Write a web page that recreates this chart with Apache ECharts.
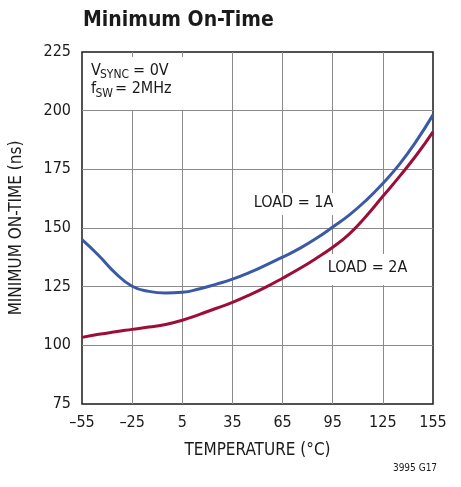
<!DOCTYPE html>
<html>
<head>
<meta charset="utf-8">
<script src="https://cdn.jsdelivr.net/npm/echarts@6/dist/echarts.min.js"></script>
<style>
html,body{margin:0;padding:0;background:#fff;}
#c{width:461px;height:487px;}
</style>
</head>
<body>
<div id="c"></div>
<script>
// Data
const temps  = [-55,-45,-35,-25,-15,-5,5,15,25,35,45,55,65,75,85,95,105,115,125,135,145,155];
const load1A = [145,138.3,130.8,125.2,123,122.3,122.6,124,126,128.2,131,134.2,137.6,141.2,145.5,150.4,155.6,161.8,169,177.2,187,198.2];
const load2A = [103.4,104.7,105.8,106.8,107.8,108.9,110.7,113.1,115.7,118.3,121.4,124.8,128.6,132.6,137,141.8,147.5,155,163.5,172,181,191];
const xTicks = [-55,-25,5,35,65,95,125,155];
const yTicks = [75,100,125,150,175,200,225];

const FONT = '"DejaVu Sans Condensed","Liberation Sans Narrow",sans-serif';
const xOff = xTicks[0];   // axis runs from 0 so ticks count from a multiple of the interval
const toPts = (arr) => temps.map((t, i) => [t - xOff, arr[i]]);
const fmtNum = (v) => String(v).replace('-', '\u2013');
const INK = '#1a1a1a';

const chart = echarts.init(document.getElementById('c'), null, {renderer: 'canvas'});
chart.setOption({
  backgroundColor: '#fff',
  animation: false,
  title: {
    text: 'Minimum On-Time',
    left: 78, top: 5,
    textStyle: {fontFamily: FONT, fontWeight: 'bold', fontSize: 21, color: INK}
  },
  grid: {
    left: 81, right: 28, top: 52, bottom: 83,
    show: true, borderColor: INK, borderWidth: 1.5, backgroundColor: 'transparent'
  },
  xAxis: {
    type: 'value',
    min: 0, max: xTicks[xTicks.length - 1] - xOff, interval: xTicks[1] - xTicks[0],
    name: 'TEMPERATURE (\u00B0C)', nameLocation: 'middle', nameGap: 38,
    nameTextStyle: {fontFamily: FONT, fontSize: 17, color: INK},
    axisLine: {show: false}, axisTick: {show: false},
    axisLabel: {fontFamily: FONT, fontSize: 16, color: INK, margin: 11,
      formatter: (v) => fmtNum(v + xOff)},
    splitLine: {show: true, showMinLine: false, showMaxLine: false, lineStyle: {color: '#8a8a8a', width: 1}}
  },
  yAxis: {
    type: 'value',
    min: yTicks[0], max: yTicks[yTicks.length - 1], interval: yTicks[1] - yTicks[0],
    name: 'MINIMUM ON-TIME (ns)', nameLocation: 'middle', nameGap: 57,
    nameTextStyle: {fontFamily: FONT, fontSize: 17, color: INK},
    axisLine: {show: false}, axisTick: {show: false},
    axisLabel: {fontFamily: FONT, fontSize: 16, color: INK, margin: 11},
    splitLine: {show: true, showMinLine: false, showMaxLine: false, lineStyle: {color: '#8a8a8a', width: 1}}
  },
  graphic: [
    {type: 'rect', z: 1, shape: {x: 83, y: 57, width: 117, height: 53}, style: {fill: '#fff'}},
    {type: 'text', z: 2, x: 91, y: 71, style: {text: 'V', fontFamily: FONT, fontSize: 16, fill: INK, verticalAlign: 'middle'}},
    {type: 'text', z: 2, x: 100, y: 75, style: {text: 'SYNC', fontFamily: FONT, fontSize: 12, fill: INK, verticalAlign: 'middle'}},
    {type: 'text', z: 2, x: 133, y: 71, style: {text: '= 0V', fontFamily: FONT, fontSize: 16, fill: INK, verticalAlign: 'middle'}},
    {type: 'text', z: 2, x: 91, y: 89, style: {text: 'f', fontFamily: FONT, fontSize: 16, fill: INK, verticalAlign: 'middle'}},
    {type: 'text', z: 2, x: 95.5, y: 94, style: {text: 'SW', fontFamily: FONT, fontSize: 12, fill: INK, verticalAlign: 'middle'}},
    {type: 'text', z: 2, x: 115, y: 89, style: {text: '= 2MHz', fontFamily: FONT, fontSize: 16, fill: INK, verticalAlign: 'middle'}},

    {type: 'rect', z: 1, shape: {x: 249, y: 193, width: 89, height: 22}, style: {fill: '#fff'}},
    {type: 'text', z: 2, x: 293.5, y: 203, style: {text: 'LOAD = 1A', fontFamily: FONT, fontSize: 16, fill: INK, align: 'center', verticalAlign: 'middle'}},
    {type: 'rect', z: 1, shape: {x: 321, y: 254, width: 93, height: 31}, style: {fill: '#fff'}},
    {type: 'text', z: 2, x: 367.5, y: 268, style: {text: 'LOAD = 2A', fontFamily: FONT, fontSize: 16, fill: INK, align: 'center', verticalAlign: 'middle'}},

    {type: 'text', z: 2, x: 415, y: 468, style: {text: '3995 G17', fontFamily: FONT, fontSize: 10, fill: INK, align: 'center', verticalAlign: 'middle'}}
  ],
  series: [
    {name: 'LOAD = 1A', type: 'line', z: 5, smooth: 0.5, showSymbol: false, data: toPts(load1A),
     lineStyle: {color: '#3b5aa6', width: 3}},
    {name: 'LOAD = 2A', type: 'line', z: 5, smooth: 0.5, showSymbol: false, data: toPts(load2A),
     lineStyle: {color: '#9c0d38', width: 3}}
  ]
});
</script>
</body>
</html>
